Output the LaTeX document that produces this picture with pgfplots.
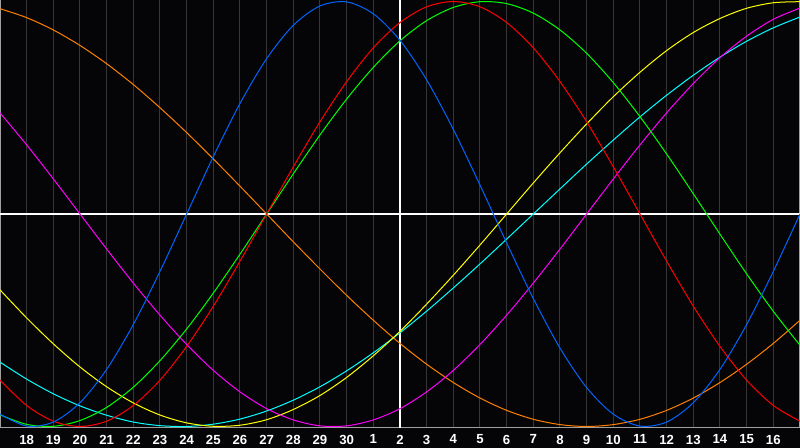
\documentclass[border=0pt]{standalone}
\usepackage{pgfplots}
\pgfplotsset{compat=1.18}
\usepackage{pgfplotstable}
\usepackage{fontspec}
\setmainfont{Liberation Sans}
\definecolor{bgc}{HTML}{050508}
\definecolor{gridc}{HTML}{363636}
\definecolor{framec}{HTML}{A0A0A0}
\definecolor{cblue}{HTML}{0064FF}
\definecolor{cred}{HTML}{FF0000}
\definecolor{cgreen}{HTML}{00FF00}
\definecolor{cmag}{HTML}{FF00FF}
\definecolor{cyel}{HTML}{FFFF00}
\definecolor{cora}{HTML}{FF8000}
\definecolor{ccya}{HTML}{00FFFF}

\pgfplotstableread{
k phy emo int intu aes awa spi
0 -0.942 -0.782 -0.945 0.476 -0.357 0.966 -0.697
1 -0.998 -0.901 -0.990 0.325 -0.489 0.924 -0.777
2 -0.979 -0.975 -0.999 0.165 -0.611 0.866 -0.846
3 -0.888 -1.000 -0.972 0.000 -0.720 0.793 -0.903
4 -0.731 -0.975 -0.910 -0.165 -0.813 0.707 -0.947
5 -0.520 -0.901 -0.815 -0.325 -0.889 0.609 -0.979
6 -0.270 -0.782 -0.690 -0.476 -0.946 0.500 -0.996
7 0.000 -0.623 -0.541 -0.614 -0.983 0.383 -1.000
8 0.270 -0.434 -0.372 -0.736 -0.999 0.259 -0.989
9 0.520 -0.222 -0.189 -0.837 -0.994 0.131 -0.965
10 0.731 0.000 0.000 -0.916 -0.968 0.000 -0.927
11 0.888 0.222 0.189 -0.969 -0.920 -0.131 -0.876
12 0.979 0.434 0.372 -0.997 -0.854 -0.259 -0.813
13 0.998 0.623 0.541 -0.997 -0.769 -0.383 -0.738
14 0.942 0.782 0.690 -0.969 -0.667 -0.500 -0.653
15 0.817 0.901 0.815 -0.916 -0.552 -0.609 -0.559
16 0.631 0.975 0.910 -0.837 -0.424 -0.707 -0.457
17 0.398 1.000 0.972 -0.736 -0.288 -0.793 -0.348
18 0.136 0.975 0.999 -0.614 -0.146 -0.866 -0.235
19 -0.136 0.901 0.990 -0.476 0.000 -0.924 -0.118
20 -0.398 0.782 0.945 -0.325 0.146 -0.966 0.000
21 -0.631 0.623 0.866 -0.165 0.288 -0.991 0.118
22 -0.817 0.434 0.756 0.000 0.424 -1.000 0.235
23 -0.942 0.222 0.618 0.165 0.552 -0.991 0.348
24 -0.998 0.000 0.458 0.325 0.667 -0.966 0.457
25 -0.979 -0.222 0.282 0.476 0.769 -0.924 0.559
26 -0.888 -0.434 0.095 0.614 0.854 -0.866 0.653
27 -0.731 -0.623 -0.095 0.736 0.920 -0.793 0.738
28 -0.520 -0.782 -0.282 0.837 0.968 -0.707 0.813
29 -0.270 -0.901 -0.458 0.916 0.994 -0.609 0.876
30 0.000 -0.975 -0.618 0.969 0.999 -0.500 0.927
}\bio

\begin{document}
\begin{tikzpicture}
\fill[bgc] (0,0) rectangle (400pt,224pt);
\useasboundingbox (0,0) rectangle (400pt,224pt);
\begin{axis}[
  at={(0pt,10pt)}, anchor=south west,
  scale only axis, width=400pt, height=214pt,
  xmin=0, xmax=30, ymin=-1.007, ymax=1.007,
  xtick={1,...,29},
  xticklabels={18,19,20,21,22,23,24,25,26,27,28,29,30,1,2,3,4,5,6,7,8,9,10,11,12,13,14,15,16},
  ytick=\empty,
  xmajorgrids,
  major grid style={gridc, line width=0.5pt},
  major tick length=0pt,
  axis line style={framec, line width=0.5pt},
  xticklabel style={font=\fontsize{6.6}{7}\selectfont\bfseries, text=white, inner sep=0pt, anchor=north, yshift=-3.2pt},
  extra x ticks={15}, extra x tick labels={},
  extra x tick style={grid=major, major grid style={white, line width=1pt}},
  extra y ticks={0}, extra y tick labels={},
  extra y tick style={grid=major, major grid style={white, line width=1pt}},
  every axis plot/.append style={line width=0.5pt, smooth, no markers},
]
\addplot[cora] table[x=k, y=awa] {\bio};
\addplot[ccya] table[x=k, y=spi] {\bio};
\addplot[cyel] table[x=k, y=aes] {\bio};
\addplot[cmag] table[x=k, y=intu] {\bio};
\addplot[cgreen] table[x=k, y=int] {\bio};
\addplot[cred] table[x=k, y=emo] {\bio};
\addplot[cblue] table[x=k, y=phy] {\bio};
\end{axis}
\end{tikzpicture}
\end{document}
